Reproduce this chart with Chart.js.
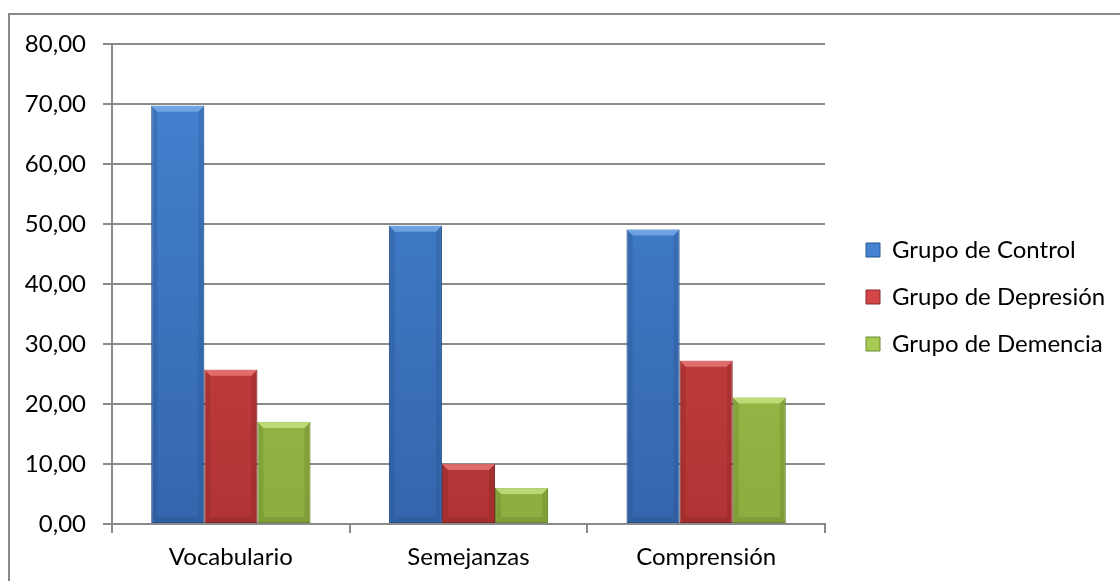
<!DOCTYPE html>
<html>
<head>
<meta charset="utf-8">
<script src="https://cdn.jsdelivr.net/npm/chart.js@4/dist/chart.umd.min.js"></script>
<style>
  html, body { margin: 0; padding: 0; background: #ffffff; }
  #wrap { position: relative; width: 1120px; height: 581px; }
</style>
</head>
<body>
<div id="wrap"><canvas id="c" width="1120" height="581"></canvas></div>
<script>
const categories = ['Vocabulario', 'Semejanzas', 'Comprensión'];
const seriesNames = ['Grupo de Control', 'Grupo de Depresión', 'Grupo de Demencia'];
const control = [69.7, 49.7, 49.1];
const depresion = [25.7, 10.0, 27.2];
const demencia = [17.0, 6.0, 21.1];
const yTicks = [0, 10, 20, 30, 40, 50, 60, 70, 80];

const FONT = 'Lato';
const palette = [
  { top: '#4583d2', bottom: '#3466ad', border: '#2b5792', light: 'rgba(130,180,240,0.7)', dark: 'rgba(25,60,110,0.18)' },
  { top: '#d44545', bottom: '#b13434', border: '#8a2828', light: 'rgba(240,130,130,0.7)', dark: 'rgba(100,20,20,0.18)' },
  { top: '#a6ca52', bottom: '#8cad3f', border: '#6c8a2e', light: 'rgba(210,235,140,0.7)', dark: 'rgba(70,95,20,0.18)' }
];

function grad(i) {
  return function (ctx) {
    const ca = ctx.chart.chartArea;
    if (!ca) return palette[i].bottom;
    const g = ctx.chart.ctx.createLinearGradient(0, ca.top, 0, ca.bottom);
    g.addColorStop(0, palette[i].top);
    g.addColorStop(1, palette[i].bottom);
    return g;
  };
}

const frame = {
  id: 'frame',
  beforeDraw(chart) {
    const c = chart.ctx;
    c.save();
    c.strokeStyle = '#8a8a8a';
    c.lineWidth = 2;
    c.beginPath();
    c.moveTo(9, 581);
    c.lineTo(9, 14);
    c.lineTo(1120, 14);
    c.stroke();
    c.restore();
  },
  beforeLayout(chart) {
    const lg = chart.legend;
    if (lg && !lg._patched) {
      const orig = lg.fit.bind(lg);
      lg.fit = function () { orig(); this.width = 295; };
      lg._patched = true;
    }
  },
  afterLayout(chart) {
    const lg = chart.legend;
    if (lg) {
      lg.left += 18; lg.right += 18;
      lg.top = 13; lg.bottom = 581;
    }
  },
  afterDatasetsDraw(chart) {
    const c = chart.ctx;
    const b = 6;
    chart.data.datasets.forEach((ds, i) => {
      const meta = chart.getDatasetMeta(i);
      meta.data.forEach(el => {
        const { x, y, base, width } = el.getProps(['x', 'y', 'base', 'width'], true);
        const l = x - width / 2, r = x + width / 2, t = y, bt = base;
        const h = bt - t;
        const bb = Math.min(b, h / 2);
        c.save();
        c.fillStyle = palette[i].light;
        c.beginPath();
        c.moveTo(l, t); c.lineTo(r, t); c.lineTo(r - bb, t + bb); c.lineTo(l + bb, t + bb); c.closePath();
        c.fill();
        c.fillStyle = palette[i].dark;
        c.beginPath();
        c.moveTo(l, t); c.lineTo(l + bb, t + bb); c.lineTo(l + bb, bt - bb); c.lineTo(l, bt); c.closePath();
        c.fill();
        c.beginPath();
        c.moveTo(r, t); c.lineTo(r - bb, t + bb); c.lineTo(r - bb, bt - bb); c.lineTo(r, bt); c.closePath();
        c.fill();
        c.beginPath();
        c.moveTo(l, bt); c.lineTo(l + bb, bt - bb); c.lineTo(r - bb, bt - bb); c.lineTo(r, bt); c.closePath();
        c.fill();
        c.restore();
      });
    });
  }
};

new Chart(document.getElementById('c'), {
  type: 'bar',
  data: {
    labels: categories,
    datasets: [control, depresion, demencia].map((d, i) => ({
      label: seriesNames[i],
      data: d,
      backgroundColor: grad(i),
      borderColor: palette[i].border,
      borderWidth: 1,
      borderSkipped: false,
      categoryPercentage: 0.67,
      barPercentage: 1.0
    }))
  },
  options: {
    responsive: false,
    animation: false,
    devicePixelRatio: 1,
    layout: { padding: { top: 44, left: 0, right: 0, bottom: 0 } },
    plugins: {
      legend: {
        position: 'right',
        align: 'center',
        labels: {
          font: { family: FONT, size: 24 },
          color: '#000000',
          boxWidth: 14,
          boxHeight: 14,
          padding: 23,
          generateLabels(chart) {
            return chart.data.datasets.map((ds, i) => ({
              text: ds.label,
              fillStyle: palette[i].top,
              strokeStyle: palette[i].border,
              lineWidth: 1,
              datasetIndex: i,
              fontColor: '#000000'
            }));
          }
        }
      },
      tooltip: { enabled: false }
    },
    scales: {
      x: {
        offset: true,
        grid: { display: true, offset: true, drawOnChartArea: false, drawTicks: true, tickLength: 9, color: '#8a8a8a', lineWidth: 2 },
        border: { display: true, color: '#8a8a8a', width: 2 },
        ticks: { font: { family: FONT, size: 24 }, color: '#000000', padding: 10 },
        afterFit(scale) { scale.height = 57; }
      },
      y: {
        min: 0,
        max: 80,
        afterBuildTicks(scale) { scale.ticks = yTicks.map(v => ({ value: v })); },
        grid: { color: '#8a8a8a', lineWidth: 2, drawTicks: true, tickLength: 9 },
        border: { display: true, color: '#8a8a8a', width: 2 },
        ticks: {
          font: { family: FONT, size: 24 },
          color: '#000000',
          padding: 17,
          callback: v => v.toFixed(2).replace('.', ',')
        },
        afterFit(scale) { scale.width = 112; }
      }
    }
  },
  plugins: [frame]
});
</script>
</body>
</html>
